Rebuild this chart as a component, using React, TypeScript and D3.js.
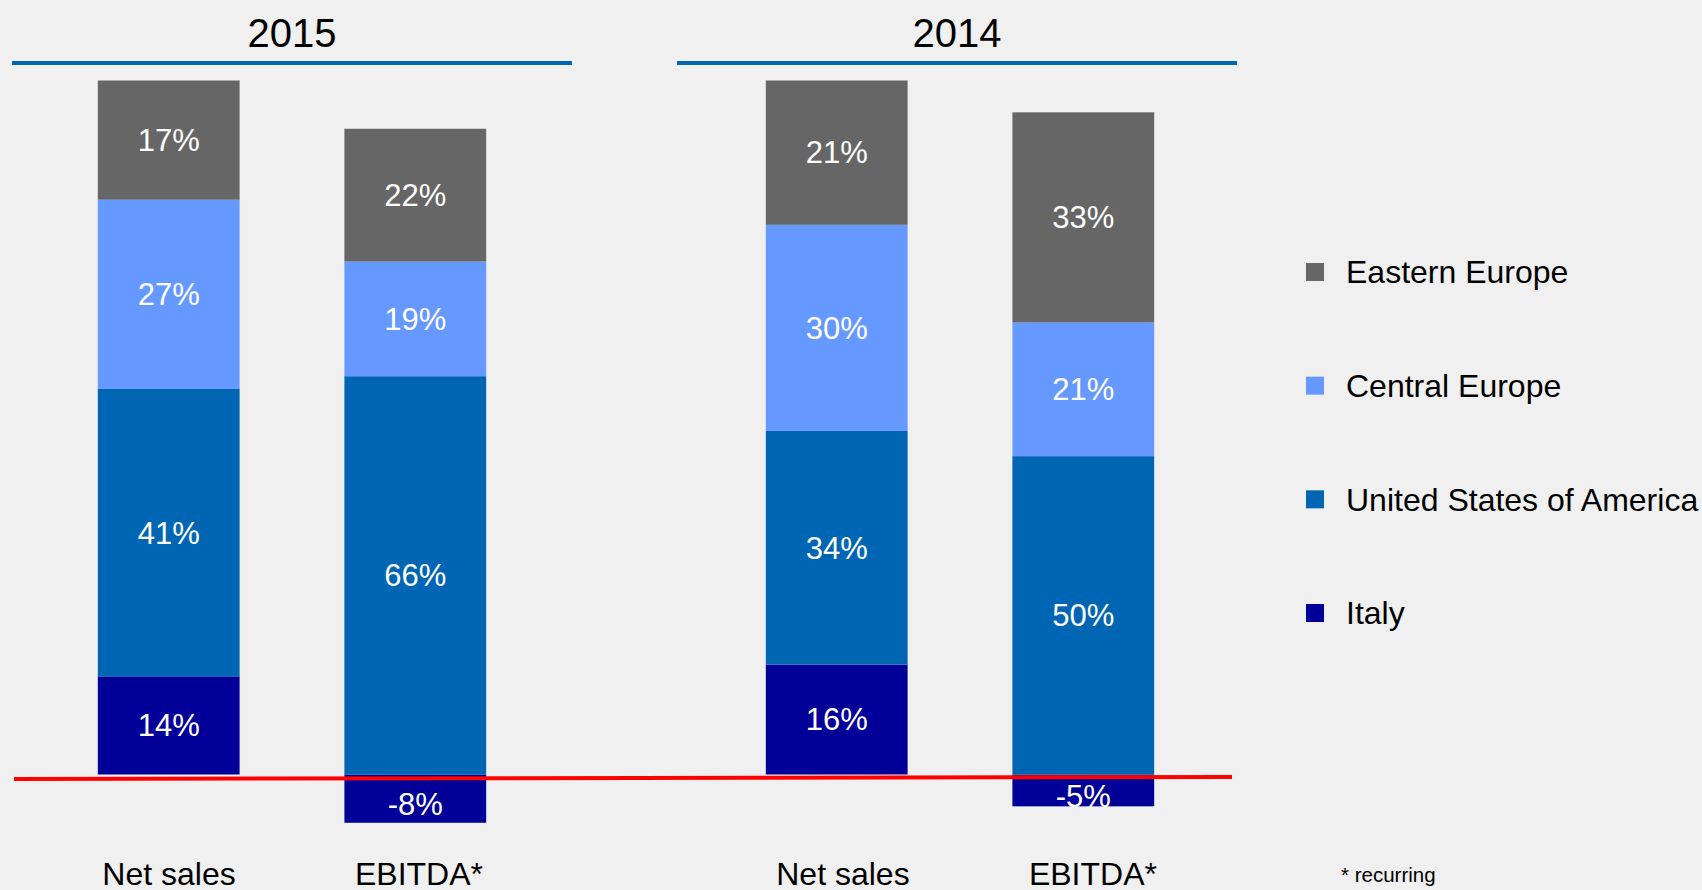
import React from "react";
import * as d3 from "d3";

const years = ["2015", "2014"];
const metrics = ["Net sales", "EBITDA*"];
const seriesNames = ["Italy", "United States of America", "Central Europe", "Eastern Europe"];
const seriesColors = ["#000099", "#0066B3", "#6699FF", "#666666"];
// order of bars: 2015 Net sales, 2015 EBITDA*, 2014 Net sales, 2014 EBITDA*
const italy = [14, -8, 16, -5];
const usa = [41, 66, 34, 50];
const centralEurope = [27, 19, 30, 21];
const easternEurope = [17, 22, 21, 33];
const legendOrder = ["Eastern Europe", "Central Europe", "United States of America", "Italy"];
const footnote = "* recurring";

const W = 1702;
const H = 890;
const FONT = "'Liberation Sans', Arial, Helvetica, sans-serif";
const BASELINE = 774.5;
const SPAN = 694;

export default function App() {
  // header groups (titles + blue underline)
  const outer = d3.scaleBand<string>().domain(years).range([12, 1237]).paddingInner(0.158).paddingOuter(0);
  // bar groups
  const barOuter = d3.scaleBand<string>().domain(years).range([12, 1240]).paddingInner(0.1617).paddingOuter(0);
  const inner = d3
    .scaleBand<string>()
    .domain(metrics)
    .range([0, barOuter.bandwidth()])
    .paddingInner(0.425)
    .paddingOuter(0.348);
  // category label groups (slightly wider spacing than bars)
  const labelOuter = d3.scaleBand<string>().domain(years).range([12, 1246]).paddingInner(0.169).paddingOuter(0);
  const labelInner = d3
    .scalePoint<string>()
    .domain(metrics)
    .range([157, 407]);
  const colorOf = d3.scaleOrdinal<string, string>().domain(seriesNames).range(seriesColors);
  const legendY = d3.scalePoint<string>().domain(legendOrder).range([272, 613]);

  const bars: any[] = [];
  years.forEach((yr, i) => {
    metrics.forEach((m, j) => {
      const k = i * 2 + j;
      const vals = [italy[k], usa[k], centralEurope[k], easternEurope[k]];
      let pos = 0;
      let neg = 0;
      const segs = vals.map((v, s) => {
        let y0, y1;
        if (v >= 0) {
          y0 = pos;
          y1 = pos + v;
          pos += v;
        } else {
          y0 = neg + v;
          y1 = neg;
          neg += v;
        }
        return { name: seriesNames[s], v, y0, y1 };
      });
      const total = pos - neg;
      const len = d3.scaleLinear().domain([0, total]).range([0, SPAN]);
      const yPix = (v: number) => BASELINE - len(v);
      const x = (barOuter(yr) as number) + (inner(m) as number);
      const lx = (labelOuter(yr) as number) + (labelInner(m) as number);
      bars.push({ key: yr + m, yr, m, x, lx, w: inner.bandwidth(), segs, yPix });
    });
  });

  const [r0, r1] = outer.range();

  return (
    <svg
      width={W}
      height={H}
      style={{ position: "absolute", left: 0, top: 0, display: "block" }}
      fontFamily={FONT}
    >
      <rect x={0} y={0} width={W} height={H} fill="#F0F0F0" />
      {years.map((yr) => {
        const gx = outer(yr) as number;
        return (
          <g key={yr}>
            <text x={gx + outer.bandwidth() / 2} y={47} textAnchor="middle" fontSize={40} fill="#000">
              {yr}
            </text>
            <line x1={gx} x2={gx + outer.bandwidth()} y1={63} y2={63} stroke="#0066B3" strokeWidth={4} />
          </g>
        );
      })}
      {bars.map((b) => (
        <g key={b.key}>
          {b.segs.map((s: any) => {
            const top = b.yPix(s.y1);
            const bot = b.yPix(s.y0);
            return (
              <rect key={s.name} x={b.x} y={top} width={b.w} height={bot - top} fill={colorOf(s.name)} />
            );
          })}
          {b.segs.map((s: any) => {
            const top = b.yPix(s.y1);
            const bot = b.yPix(s.y0);
            return (
              <text
                key={s.name + "l"}
                x={b.x + b.w / 2}
                y={(top + bot) / 2 + (s.v < 0 ? 6 : 0)}
                dy="0.35em"
                textAnchor="middle"
                fontSize={31}
                fill="#FFFFFF"
              >
                {s.v + "%"}
              </text>
            );
          })}
          <text x={b.lx} y={885} textAnchor="middle" fontSize={32} fill="#000">
            {b.m}
          </text>
        </g>
      ))}
      <line x1={r0 + 2} y1={779} x2={r1 - 5} y2={777} stroke="#FF0000" strokeWidth={4} />
      {legendOrder.map((name) => {
        const cy = legendY(name) as number;
        return (
          <g key={name}>
            <rect x={1306} y={cy - 9} width={18} height={18} fill={colorOf(name)} />
            <text x={1346} y={cy} dy="0.35em" fontSize={32} fill="#000">
              {name}
            </text>
          </g>
        );
      })}
      <text x={1341} y={882} fontSize={20.5} fill="#000">
        {footnote}
      </text>
    </svg>
  );
}
